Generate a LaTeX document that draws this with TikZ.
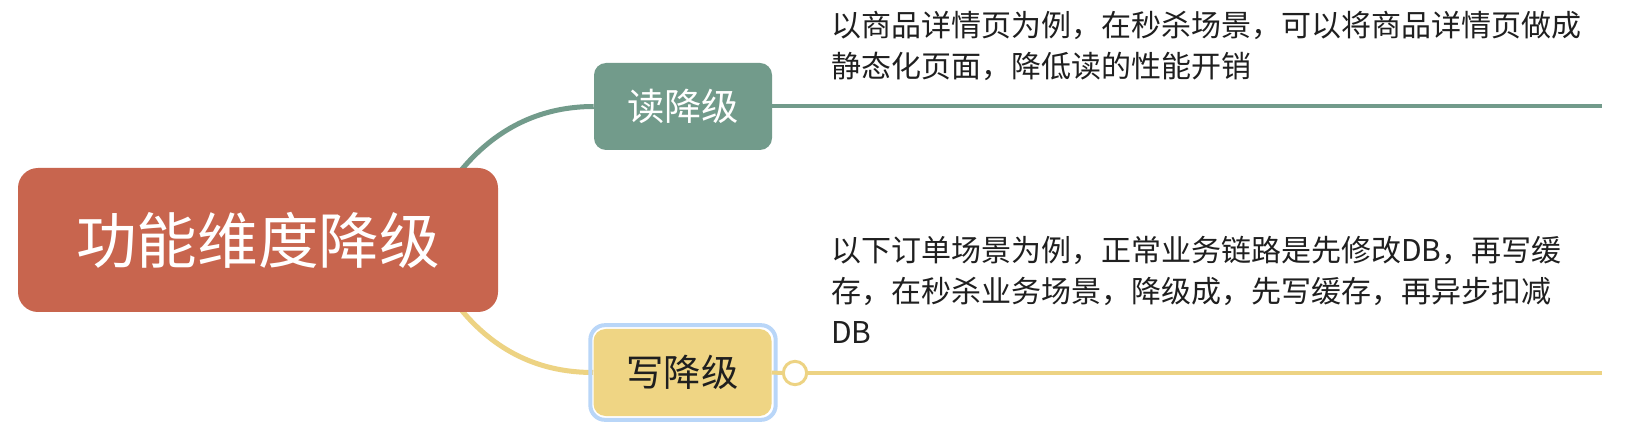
\documentclass[tikz,border=0pt]{standalone}
\usepackage{fontspec}
\setmainfont{Noto Sans CJK SC}
\usetikzlibrary{backgrounds}
\definecolor{rootc}{HTML}{C8654E}
\definecolor{readc}{HTML}{729B8B}
\definecolor{writec}{HTML}{EFD584}
\definecolor{wlinec}{HTML}{EDD383}
\definecolor{selc}{HTML}{B9D6F8}
\definecolor{txtc}{HTML}{1F1F1F}
\begin{document}
\begin{tikzpicture}[x=0.75pt,y=-0.75pt,
  rootbox/.style={fill=rootc, text=white, rounded corners=15pt, minimum width=360pt, minimum height=108pt, inner sep=0pt, font=\fontsize{45.5}{50}\selectfont},
  subbox/.style={rounded corners=9pt, minimum width=133.5pt, minimum height=65.25pt, inner sep=0pt, font=\fontsize{28}{32}\selectfont},
  selbox/.style={draw=selc, line width=3pt, rounded corners=11pt, minimum width=139pt, minimum height=71pt, inner sep=0pt},
  knobc/.style={circle, draw=wlinec, fill=white, line width=2.25pt, minimum size=17.5pt, inner sep=0pt},
  desc/.style={text=txtc, inner sep=0pt, anchor=base west, font=\fontsize{22.5}{30.75}\selectfont},
  branch/.style={line width=3.75pt},
  leafline/.style={line width=3pt}]
\useasboundingbox (0,0) rectangle (1642,438);
\node[rootbox] (root) at (258,240) {功能维度降级};
\node[subbox, fill=readc, text=white] (read) at (683,106.5) {读降级};
\node[subbox, fill=writec, text=txtc] (write) at (682.5,372.5) {写降级};
\node[selbox] (sel) at (683,372.5) {};
\node[knobc] (knob) at (795,373) {};
\coordinate (rend) at (1602,106.5);
\coordinate (wend) at (1602,373);
\node[desc] (rdesc) at (831,36.5) {\vtop{\hbox{以商品详情页为例，在秒杀场景，可以将商品详情页做成}\hbox{静态化页面，降低读的性能开销}}};
\node[desc] (wdesc) at (831,261.5) {\vtop{\hbox{以下订单场景为例，正常业务链路是先修改DB，再写缓}\hbox{存，在秒杀业务场景，降级成，先写缓存，再异步扣减}\hbox{DB}}};
\draw[leafline, readc] (read.east) -- (rend);
\draw[leafline, wlinec] (write.east) -- (knob.west);
\draw[leafline, wlinec] (knob.east) -- (wend);
\begin{scope}[on background layer]
\fill[white] (0,0) rectangle (1642,438);
\draw[branch, readc] ([xshift=-26.25pt]root.north east) ++(-10,12) -- ++(10,-12) .. controls +(36,-42) and +(-50,0) .. (read.west);
\draw[branch, wlinec] ([xshift=-26.25pt]root.south east) ++(-10,-12) -- ++(10,12) .. controls +(36,42) and +(-50,0) .. (write.west);
\end{scope}
\end{tikzpicture}
\end{document}
